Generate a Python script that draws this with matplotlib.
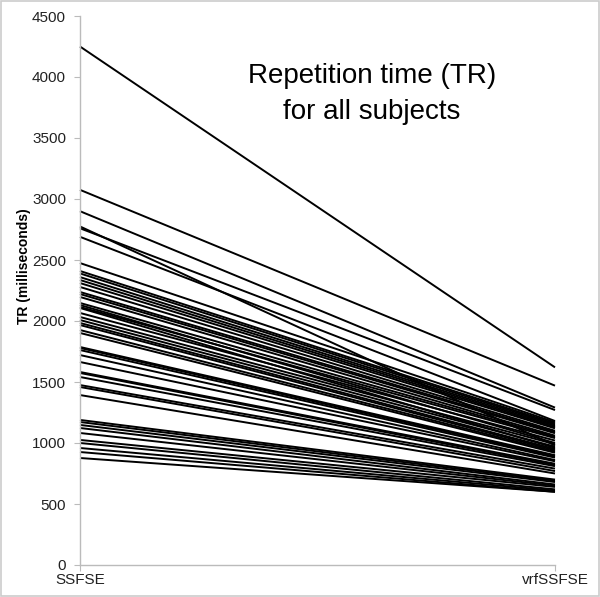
import matplotlib
matplotlib.use("Agg")
import matplotlib.pyplot as plt
from matplotlib.patches import Rectangle

plt.rcParams['font.family'] = ['Liberation Sans', 'DejaVu Sans']

conditions = ["SSFSE", "vrfSSFSE"]
tr_ssfse = [4250, 3075, 2900, 2775, 2760, 2690, 2475, 2410, 2390, 2360, 2336, 2311,
            2279, 2238, 2221, 2197, 2148, 2131, 2115, 2107, 2066, 2033, 2008, 1984,
            1967, 1926, 1902, 1787, 1779, 1762, 1721, 1664, 1582, 1574, 1541, 1475,
            1459, 1393, 1189, 1172, 1148, 1123, 1082, 1025, 1000, 959, 926, 877]
tr_vrfssfse = [1620, 1470, 1290, 980, 1270, 1180, 1170, 1160, 1150, 1140, 1130, 1120,
               1100, 1090, 1080, 1060, 1050, 1000, 1040, 960, 1020, 990, 970, 950,
               940, 930, 920, 900, 890, 880, 860, 850, 830, 820, 810, 790,
               770, 750, 700, 690, 680, 660, 650, 640, 620, 610, 600, 600]
yticks = [0, 500, 1000, 1500, 2000, 2500, 3000, 3500, 4000, 4500]

fig = plt.figure(figsize=(6.0, 5.97), dpi=100)
ax = fig.add_axes([80/600, 1-565/597, 475/600, 549/597])

for a, b in zip(tr_ssfse, tr_vrfssfse):
    ax.plot([0, 1], [a, b], color='black', lw=1.4, solid_capstyle='butt', clip_on=False)

ax.set_xlim(0, 1)
ax.set_ylim(0, 4500)
ax.set_yticks(yticks)
ax.set_yticklabels([str(t) for t in yticks], fontsize=11, color='#222222')
ax.set_xticks([0, 1])
ax.set_xticklabels(conditions, fontsize=11, color='#222222')
ax.tick_params(axis='y', length=4, color='#bbbbbb', pad=6)
ax.tick_params(axis='x', length=4, color='#bbbbbb', pad=2)
for s in ['top', 'right']:
    ax.spines[s].set_visible(False)
for s in ['left', 'bottom']:
    ax.spines[s].set_color('#bbbbbb')
    ax.spines[s].set_linewidth(1.0)

ax.set_ylabel("TR (milliseconds)", fontsize=10, fontweight='bold')
ax.yaxis.set_label_coords(-0.103, 0.545)
ax.text(0.615, 0.858, "Repetition time (TR)\nfor all subjects", transform=ax.transAxes,
        ha='center', va='center', fontsize=20, linespacing=1.5)

fig.patches.append(Rectangle((0.002, 0.002), 0.996, 0.996, transform=fig.transFigure,
                             fill=False, edgecolor='#cccccc', lw=1.2))

fig.savefig("out.png", dpi=100)
